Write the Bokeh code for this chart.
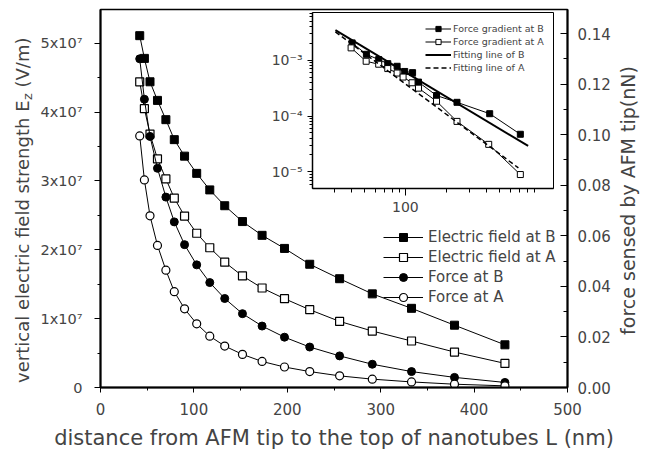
import math
from bokeh.plotting import figure
from bokeh.models import (Range1d, LinearAxis, SingleIntervalTicker, FixedTicker,
                          CustomJSTickFormatter, NumeralTickFormatter, Legend, LegendItem, Label)
from bokeh.embed import file_html
from bokeh.resources import INLINE

FONT = "DejaVu Sans"

# ---------------- main chart data ----------------
L_nm = [42, 47, 53, 61, 70, 79, 90, 103, 117, 133, 152, 173, 197, 224, 256, 291, 333, 379, 433]
E_field_B = [5.11e7, 4.78e7, 4.44e7, 4.17e7, 3.89e7, 3.60e7, 3.36e7, 3.11e7, 2.87e7, 2.64e7,
             2.41e7, 2.21e7, 2.02e7, 1.79e7, 1.58e7, 1.36e7, 1.15e7, 0.905e7, 0.62e7]
E_field_A = [4.44e7, 4.05e7, 3.68e7, 3.32e7, 3.03e7, 2.75e7, 2.49e7, 2.24e7, 2.03e7, 1.82e7,
             1.62e7, 1.445e7, 1.29e7, 1.13e7, 0.96e7, 0.82e7, 0.675e7, 0.515e7, 0.35e7]
force_B = [0.130, 0.114, 0.0993, 0.0867, 0.0753, 0.0655, 0.0565, 0.0485, 0.0415, 0.0352,
           0.0292, 0.0243, 0.0199, 0.0160, 0.0125, 0.0092, 0.0063, 0.0040, 0.0020]
force_A = [0.0995, 0.0821, 0.0679, 0.0562, 0.0464, 0.0379, 0.0311, 0.0252, 0.0203, 0.0164,
           0.0131, 0.0103, 0.0081, 0.0063, 0.0046, 0.0033, 0.0022, 0.0013, 0.00065]
series_labels = ["Electric field at B", "Electric field at A", "Force at B", "Force at A"]

# ---------------- inset data (log-log) ----------------
grad_L_B = [40.3, 51.4, 63.4, 74, 86.8, 98.8, 113, 125, 170, 241, 421, 710]
grad_B = [2.05e-3, 1.28e-3, 1.03e-3, 8.7e-4, 7.8e-4, 6.3e-4, 6.0e-4, 4.06e-4, 2.33e-4,
          1.76e-4, 1.1e-4, 4.7e-5]
grad_L_A = [39.6, 51.2, 63.4, 74, 86.8, 96.1, 112, 125, 170, 241, 414, 710]
grad_A = [1.67e-3, 9.6e-4, 8.5e-4, 7.1e-4, 5.9e-4, 5.0e-4, 3.95e-4, 3.16e-4, 1.84e-4,
          8.0e-5, 3.1e-5, 8.9e-6]
fit_L_B = [30.3, 811]
fit_B = [3.49e-3, 2.9e-5]
fit_L_A = [30.3, 687]
fit_A = [3.24e-3, 1.17e-5]
inset_labels = ["Force gradient at B", "Force gradient at A", "Fitting line of B", "Fitting line of A"]

# ================= main figure =================
main = figure(width=640, height=452, output_backend="svg", toolbar_location=None,
              x_range=Range1d(0, 500), y_range=Range1d(0, 5.49e7),
              min_border_left=100, min_border_right=73, min_border_top=9, min_border_bottom=63)
main.extra_y_ranges = {"force": Range1d(0, 0.1495)}
main.xgrid.visible = False
main.ygrid.visible = False
main.outline_line_color = "black"
main.outline_line_width = 1.5
main.background_fill_color = "white"
main.border_fill_color = "white"

xa = main.xaxis[0]
xa.ticker = SingleIntervalTicker(interval=100, num_minor_ticks=2)
xa.axis_label = "distance from AFM tip to the top of nanotubes L (nm)"
xa.axis_label_text_font = FONT
xa.axis_label_text_font_size = "21px"
xa.axis_label_text_font_style = "normal"
xa.axis_label_standoff = 8
xa.major_label_text_font = FONT
xa.major_label_text_font_size = "15px"
xa.major_label_standoff = 10
xa.major_tick_out = 5
xa.major_tick_in = 0
xa.minor_tick_out = 3
xa.minor_tick_in = 0
xa.axis_line_width = 2

ya = main.yaxis[0]
ya.ticker = SingleIntervalTicker(interval=1e7, num_minor_ticks=2)
ya.formatter = CustomJSTickFormatter(code="return tick == 0 ? '0' : Math.round(tick / 1e7) + 'x10\u2077';")
ya.major_label_text_font = FONT
ya.major_label_text_font_size = "14.5px"
ya.major_label_standoff = 12
ya.major_tick_out = 6
ya.major_tick_in = 0
ya.minor_tick_out = 3
ya.minor_tick_in = 0
ya.axis_line_width = 2

ra = LinearAxis(y_range_name="force",
                ticker=SingleIntervalTicker(interval=0.02, num_minor_ticks=2),
                formatter=NumeralTickFormatter(format="0.00"))
ra.major_label_text_font = FONT
ra.major_label_text_font_size = "15px"
ra.major_label_standoff = 10
ra.major_tick_in = 7
ra.major_tick_out = 0
ra.minor_tick_in = 4
ra.minor_tick_out = 0
ra.axis_line_width = 2
main.add_layout(ra, "right")

ln_EB = main.line(L_nm, E_field_B, line_color="black", line_width=1)
sc_EB = main.scatter(L_nm, E_field_B, marker="square", size=8, fill_color="black", line_color="black")
ln_EA = main.line(L_nm, E_field_A, line_color="black", line_width=1)
sc_EA = main.scatter(L_nm, E_field_A, marker="square", size=8, fill_color="white", line_color="black", line_width=1.2)
ln_FB = main.line(L_nm, force_B, y_range_name="force", line_color="black", line_width=1)
sc_FB = main.scatter(L_nm, force_B, y_range_name="force", marker="circle", size=8, fill_color="black", line_color="black")
ln_FA = main.line(L_nm, force_A, y_range_name="force", line_color="black", line_width=1)
sc_FA = main.scatter(L_nm, force_A, y_range_name="force", marker="circle", size=8, fill_color="white", line_color="black", line_width=1.2)

legend = Legend(items=[LegendItem(label=series_labels[0], renderers=[ln_EB, sc_EB]),
                       LegendItem(label=series_labels[1], renderers=[ln_EA, sc_EA]),
                       LegendItem(label=series_labels[2], renderers=[ln_FB, sc_FB]),
                       LegendItem(label=series_labels[3], renderers=[ln_FA, sc_FA])],
                location=(283, 80), padding=0, margin=0, spacing=0,
                glyph_width=40, glyph_height=20, label_height=20, label_standoff=5,
                label_text_font=FONT, label_text_font_size="15px",
                border_line_color=None, background_fill_alpha=0)
main.add_layout(legend)
main.styles = {"position": "absolute", "left": "0px", "top": "0px"}

# ================= inset figure =================
inset = figure(width=295, height=210, x_axis_type="log", y_axis_type="log",
               x_range=Range1d(20.5, 1250), y_range=Range1d(5.0e-6, 7.2e-3),
               output_backend="svg", toolbar_location=None,
               min_border_left=50, min_border_right=4, min_border_top=4, min_border_bottom=30)
inset.xgrid.visible = False
inset.ygrid.visible = False
inset.outline_line_color = "black"
inset.outline_line_width = 1
inset.background_fill_color = "white"
inset.border_fill_alpha = 0

x_minor = [k * 10 ** e for e in (1, 2, 3) for k in range(2, 10) if 20 <= k * 10 ** e <= 1250 and k * 10 ** e != 100]
y_minor = [k * 10.0 ** e for e in (-6, -5, -4, -3) for k in range(2, 10) if 5e-6 <= k * 10.0 ** e <= 7.2e-3]

ix = inset.xaxis[0]
ix.ticker = FixedTicker(ticks=[100], minor_ticks=x_minor)
ix.formatter = CustomJSTickFormatter(code="return tick.toFixed(0);")
ix.major_label_text_font = FONT
ix.major_label_text_font_size = "14px"
ix.major_label_standoff = 6
ix.major_tick_out = 7
ix.major_tick_in = 0
ix.minor_tick_out = 4
ix.minor_tick_in = 0
ix.axis_line_width = 1.5

iy = inset.yaxis[0]
iy.ticker = FixedTicker(ticks=[1e-5, 1e-4, 1e-3], minor_ticks=y_minor)
iy.formatter = CustomJSTickFormatter(code="""
const sup = {'-': '\u207b', '0': '\u2070', '1': '\u00b9', '2': '\u00b2', '3': '\u00b3',
             '4': '\u2074', '5': '\u2075', '6': '\u2076', '7': '\u2077', '8': '\u2078', '9': '\u2079'};
const e = Math.round(Math.log10(tick));
return '10' + String(e).split('').map(c => sup[c]).join('');
""")
iy.major_label_text_font = FONT
iy.major_label_text_font_size = "14px"
iy.major_label_standoff = 5
iy.major_tick_out = 5
iy.major_tick_in = 0
iy.minor_tick_out = 3
iy.minor_tick_in = 0
iy.axis_line_width = 1.5

g_lnB = inset.line(grad_L_B, grad_B, line_color="black", line_width=1)
g_scB = inset.scatter(grad_L_B, grad_B, marker="square", size=6, fill_color="black", line_color="black")
g_lnA = inset.line(grad_L_A, grad_A, line_color="black", line_width=1)
g_scA = inset.scatter(grad_L_A, grad_A, marker="square", size=6, fill_color="white", line_color="black")
f_B = inset.line(fit_L_B, fit_B, line_color="black", line_width=2)
f_A = inset.line(fit_L_A, fit_A, line_color="black", line_width=1.5, line_dash="5 3")

# one single-row legend per entry, stacked 13 px apart
inset_entries = [[g_lnB, g_scB], [g_lnA, g_scA], [f_B], [f_A]]
row_bottoms = [153, 140, 127, 114]
for lab, rends, yb in zip(inset_labels, inset_entries, row_bottoms):
    inset.add_layout(Legend(items=[LegendItem(label=lab, renderers=rends)],
                            location=(113, yb), padding=0, margin=0, spacing=0,
                            glyph_width=26, glyph_height=13, label_height=13, label_standoff=2,
                            label_text_font=FONT, label_text_font_size="9.5px",
                            border_line_color=None, background_fill_alpha=0))
inset.styles = {"position": "absolute", "left": "262px", "top": "8px"}

# ================= transparent overlay for the rotated axis titles =================
OW, OH = 640, 452
overlay = figure(width=OW, height=OH, output_backend="svg", toolbar_location=None,
                 x_range=Range1d(0, 1), y_range=Range1d(0, 1),
                 x_axis_location=None, y_axis_location=None,
                 min_border=0, min_border_left=0, min_border_right=0,
                 min_border_top=0, min_border_bottom=0)
overlay.xgrid.visible = False
overlay.ygrid.visible = False
overlay.outline_line_color = None
overlay.background_fill_alpha = 0
overlay.border_fill_alpha = 0

JY = OH - 100  # junction of "E" and subscript "z" (page y = 100)
overlay.add_layout(Label(x=21.8, y=JY, x_units="screen", y_units="screen", angle=math.pi / 2,
                         text="vertical electric field strength E", text_align="right",
                         text_baseline="middle", text_font=FONT, text_font_size="18px"))
overlay.add_layout(Label(x=27, y=JY + 0.5, x_units="screen", y_units="screen", angle=math.pi / 2,
                         text="z", text_align="left", text_baseline="middle",
                         text_font=FONT, text_font_size="13px"))
overlay.add_layout(Label(x=21.8, y=JY + 13, x_units="screen", y_units="screen", angle=math.pi / 2,
                         text="(V/m)", text_align="left", text_baseline="middle",
                         text_font=FONT, text_font_size="18px"))
overlay.add_layout(Label(x=627, y=OH - 200, x_units="screen", y_units="screen", angle=math.pi / 2,
                         text="force sensed by AFM tip(nN)", text_align="center",
                         text_baseline="middle", text_font=FONT, text_font_size="19px"))
overlay.styles = {"position": "absolute", "left": "0px", "top": "0px", "pointer-events": "none"}

open("out.html", "w").write(file_html([main, inset, overlay], INLINE))
